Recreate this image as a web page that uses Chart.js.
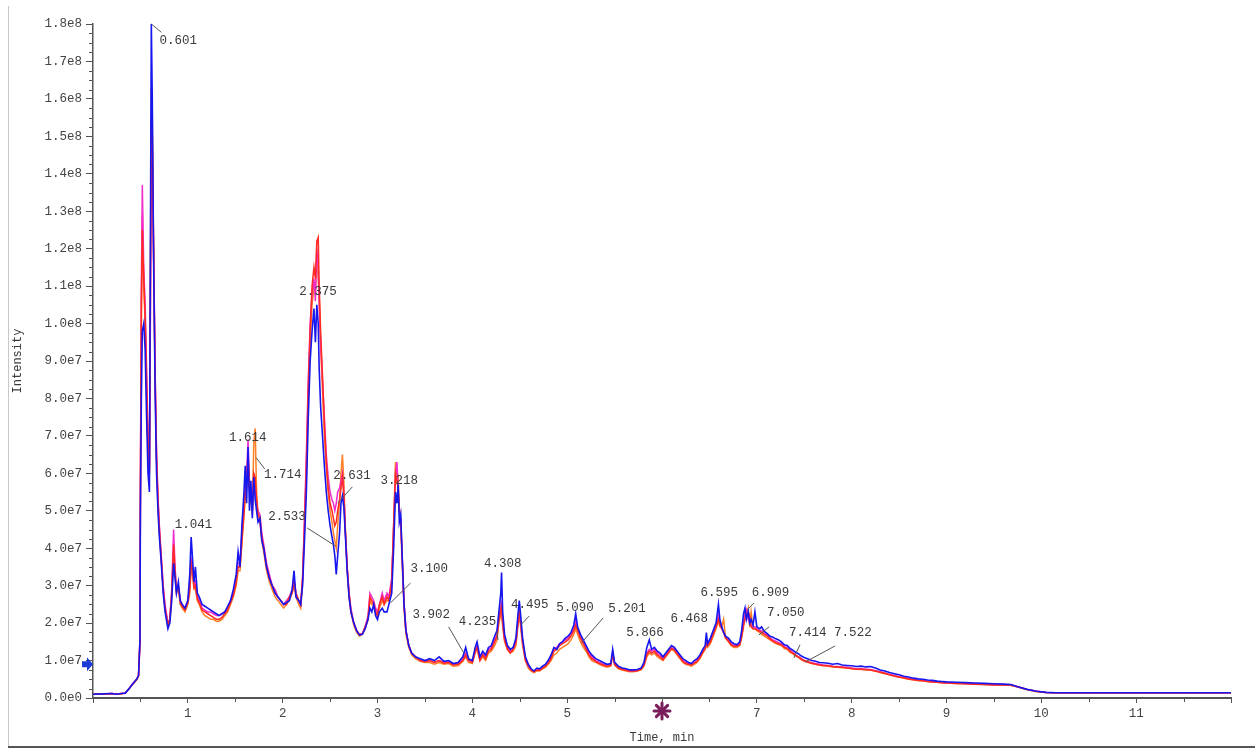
<!DOCTYPE html>
<html><head><meta charset="utf-8">
<script src="https://cdn.jsdelivr.net/npm/chart.js@4/dist/chart.umd.min.js"></script>
<style>html,body{margin:0;padding:0;background:#fff;}canvas{display:block;}</style>
</head><body>
<canvas id="c" width="1255" height="749"></canvas>
<script>
// ---- data (intensity in units of 1e7) ----
const UNIT = 1e7;
const timeMin = [
 0,0.1,0.2,0.25,0.3,0.34,0.38,0.42,0.46,0.48,0.495,
 0.50,0.51,0.52,0.535,0.55,0.565,0.58,0.595,0.605,0.615,0.625,0.64,0.655,0.67,0.685,0.70,0.72,0.74,0.76,0.79,
 0.81,0.83,0.85,0.865,0.88,0.90,0.92,0.94,0.97,1.00,1.02,1.035,1.05,1.065,1.08,1.10,1.12,1.15,1.18,1.21,
 1.24,1.27,1.30,1.33,1.36,1.39,1.42,1.45,1.48,1.51,1.53,1.55,1.57,1.59,1.605,1.62,1.635,1.65,1.665,1.68,
 1.695,1.71,1.725,1.74,1.76,1.78,1.80,1.83,1.86,1.89,1.92,1.95,1.98,2.01,2.04,2.07,2.10,2.12,2.14,2.17,
 2.19,2.21,2.23,2.25,2.27,2.29,2.31,2.33,2.345,2.36,2.375,2.385,2.40,2.42,2.44,2.46,2.48,2.50,2.52,2.535,
 2.55,2.565,2.58,2.60,2.615,2.63,2.645,2.66,2.68,2.70,2.72,2.75,2.78,2.81,2.84,2.87,2.90,2.92,2.94,2.96,
 2.98,3.00,3.02,3.05,3.07,3.10,3.12,3.15,3.17,3.19,3.205,3.218,3.23,3.245,3.26,3.28,3.30,3.33,3.36,3.40,
 3.45,3.50,3.55,3.60,3.65,3.70,3.75,3.80,3.85,3.90,3.93,3.96,4.00,4.03,4.05,4.08,4.11,4.14,4.17,4.20,
 4.235,4.26,4.28,4.30,4.308,4.32,4.34,4.37,4.40,4.43,4.46,4.48,4.495,4.51,4.53,4.56,4.59,4.62,4.65,4.68,
 4.71,4.74,4.77,4.80,4.83,4.86,4.89,4.92,4.95,4.98,5.01,5.04,5.07,5.09,5.11,5.14,5.17,5.20,5.23,5.26,
 5.30,5.34,5.38,5.42,5.46,5.48,5.50,5.54,5.58,5.62,5.66,5.70,5.74,5.78,5.81,5.84,5.866,5.89,5.92,5.95,
 5.98,6.01,6.04,6.07,6.10,6.13,6.16,6.19,6.22,6.25,6.28,6.31,6.34,6.37,6.40,6.43,6.455,6.468,6.48,6.51,
 6.54,6.57,6.595,6.61,6.63,6.65,6.67,6.70,6.73,6.76,6.79,6.82,6.84,6.86,6.875,6.89,6.909,6.925,6.94,6.96,
 6.98,7.00,7.03,7.05,7.08,7.11,7.14,7.17,7.20,7.23,7.26,7.29,7.32,7.35,7.38,7.41,7.44,7.47,7.50,7.54,
 7.58,7.62,7.66,7.70,7.75,7.80,7.85,7.90,7.95,8.00,8.05,8.10,8.15,8.20,8.25,8.30,8.35,8.40,8.45,8.50,
 8.55,8.60,8.65,8.70,8.75,8.80,8.85,8.90,8.95,9.00,9.10,9.20,9.30,9.40,9.50,9.60,9.68,9.75,9.85,9.95,
 10.05,10.15,11.0,12.0
];
const blueSeries = [
 0.1,0.11,0.12,0.1,0.12,0.13,0.25,0.38,0.5,0.6,1.5,
 5.0,8.0,9.8,10.0,9.3,7.5,6.0,5.5,12.0,18.0,16.0,11.5,8.2,6.0,5.0,4.3,3.6,2.8,2.3,1.85,
 2.0,2.6,3.6,3.2,2.8,3.1,2.6,2.5,2.4,2.6,3.3,4.3,3.7,3.1,3.5,2.8,2.7,2.5,2.45,2.4,
 2.35,2.3,2.25,2.2,2.25,2.3,2.45,2.6,2.9,3.3,3.9,3.5,4.6,5.4,6.2,5.2,6.7,5.0,5.8,4.8,
 5.9,5.3,5.0,4.7,4.8,4.2,4.0,3.5,3.2,3.0,2.8,2.7,2.6,2.5,2.55,2.6,2.9,3.4,2.7,2.6,
 2.5,3.0,4.2,5.5,7.5,9.0,9.8,10.4,9.5,10.5,10.0,8.8,7.8,7.0,6.2,5.5,5.0,4.6,4.3,4.1,
 3.8,3.3,3.8,4.4,5.2,5.4,5.1,4.4,3.4,2.7,2.3,2.0,1.8,1.68,1.7,1.85,2.1,2.4,2.3,2.5,
 2.2,2.1,2.3,2.4,2.3,2.3,2.5,2.8,4.0,5.5,5.2,5.7,4.7,4.9,3.8,2.5,1.8,1.4,1.2,1.1,
 1.05,1.0,1.05,1.0,1.1,0.98,1.0,0.92,0.95,1.1,1.35,1.05,1.0,1.35,1.5,1.1,1.25,1.15,1.35,1.4,
 1.65,1.8,2.3,2.8,3.35,2.3,1.7,1.4,1.3,1.35,1.6,2.2,2.6,2.2,1.6,1.1,0.9,0.78,0.72,0.8,
 0.78,0.85,0.9,1.0,1.15,1.35,1.3,1.45,1.5,1.6,1.65,1.75,1.95,2.25,1.9,1.7,1.55,1.4,1.25,1.15,
 1.05,1.0,0.95,0.9,0.92,1.3,0.95,0.85,0.8,0.78,0.75,0.75,0.76,0.8,0.95,1.35,1.55,1.3,1.35,1.25,
 1.2,1.1,1.2,1.3,1.4,1.35,1.25,1.15,1.05,1.0,0.95,0.92,1.0,1.05,1.15,1.3,1.4,1.75,1.45,1.6,
 1.8,2.0,2.5,2.1,1.9,1.75,1.65,1.6,1.5,1.45,1.42,1.5,1.8,2.25,2.4,2.1,2.3,2.0,2.1,1.95,
 2.3,1.9,1.85,1.9,1.78,1.72,1.65,1.62,1.58,1.55,1.5,1.42,1.4,1.32,1.28,1.22,1.18,1.12,1.08,1.04,
 1.0,0.98,0.95,0.94,0.93,0.9,0.92,0.88,0.87,0.86,0.84,0.85,0.83,0.84,0.8,0.75,0.72,0.68,0.65,0.62,
 0.58,0.56,0.53,0.51,0.5,0.48,0.47,0.45,0.44,0.43,0.42,0.41,0.4,0.39,0.38,0.37,0.36,0.3,0.23,0.18,
 0.15,0.14,0.14,0.14
];
const magentaSeries = [
 0.1,0.11,0.12,0.1,0.12,0.13,0.25,0.38,0.5,0.6,1.6,
 5.8,11.0,13.7,11.5,10.5,8.8,7.0,6.2,10.0,15.0,14.5,11.8,8.8,6.6,5.4,4.6,3.8,3.0,2.5,2.0,
 2.1,2.9,4.5,3.5,2.9,3.0,2.6,2.5,2.4,2.6,3.0,3.7,3.5,3.0,3.1,2.7,2.6,2.4,2.35,2.3,
 2.3,2.25,2.2,2.2,2.25,2.3,2.4,2.6,2.8,3.2,3.6,3.6,4.4,5.1,5.6,6.0,6.9,5.7,5.5,5.0,
 6.0,5.6,5.2,5.0,4.9,4.4,4.1,3.6,3.3,3.0,2.9,2.7,2.6,2.5,2.6,2.7,2.9,3.2,2.8,2.6,
 2.5,3.2,4.8,6.5,8.5,10.0,10.8,11.2,10.6,12.0,11.5,10.5,9.5,8.5,7.5,6.5,5.9,5.5,5.3,5.2,
 5.0,5.2,5.5,5.6,5.8,6.0,5.5,4.5,3.5,2.8,2.4,2.0,1.8,1.7,1.72,1.9,2.2,2.8,2.7,2.6,
 2.4,2.3,2.5,2.8,2.6,2.8,2.7,3.2,4.5,6.0,6.3,5.5,5.0,4.8,3.8,2.5,1.8,1.4,1.2,1.1,
 1.0,0.98,1.0,0.95,1.0,0.95,0.97,0.9,0.92,1.05,1.2,1.0,0.98,1.25,1.4,1.05,1.2,1.1,1.3,1.35,
 1.55,1.7,2.2,2.4,2.6,2.0,1.6,1.35,1.25,1.3,1.5,2.0,2.3,2.0,1.5,1.05,0.85,0.75,0.72,0.75,
 0.76,0.82,0.86,0.95,1.1,1.3,1.35,1.45,1.5,1.55,1.6,1.7,1.85,2.1,1.85,1.65,1.5,1.35,1.2,1.1,
 1.0,0.95,0.9,0.88,0.9,1.2,0.92,0.82,0.78,0.75,0.72,0.72,0.74,0.78,0.9,1.2,1.3,1.25,1.3,1.2,
 1.15,1.05,1.15,1.25,1.35,1.3,1.2,1.1,1.0,0.95,0.92,0.9,0.95,1.0,1.1,1.25,1.35,1.5,1.45,1.55,
 1.75,1.95,2.2,2.0,1.85,1.75,1.65,1.55,1.45,1.4,1.4,1.45,1.7,2.0,2.2,2.35,2.1,2.0,1.95,1.9,
 1.9,1.85,1.8,1.8,1.72,1.68,1.6,1.55,1.52,1.48,1.45,1.38,1.34,1.28,1.22,1.15,1.1,1.05,1.0,0.97,
 0.94,0.92,0.9,0.88,0.87,0.85,0.84,0.83,0.82,0.8,0.78,0.78,0.77,0.76,0.73,0.7,0.67,0.63,0.6,0.57,
 0.55,0.52,0.5,0.48,0.47,0.45,0.44,0.43,0.42,0.41,0.4,0.39,0.38,0.37,0.36,0.36,0.35,0.3,0.23,0.18,
 0.15,0.14,0.14,0.14
];
const orangeSeries = [
 0.1,0.1,0.11,0.1,0.11,0.13,0.24,0.37,0.48,0.58,1.4,
 5.5,10.0,12.9,11.0,10.0,8.2,6.6,6.0,11.0,16.3,15.5,11.6,8.5,6.3,5.2,4.4,3.7,2.9,2.4,1.95,
 2.05,2.7,3.9,3.3,2.8,2.9,2.5,2.4,2.3,2.5,2.8,3.4,3.3,2.9,2.9,2.6,2.5,2.3,2.2,2.15,
 2.1,2.1,2.05,2.05,2.1,2.2,2.3,2.5,2.7,3.0,3.4,3.4,4.1,4.8,5.3,5.7,6.4,5.5,5.3,4.9,
 6.8,7.2,5.5,4.9,4.7,4.2,3.9,3.4,3.1,2.9,2.7,2.6,2.5,2.4,2.5,2.6,2.8,3.0,2.7,2.5,
 2.4,3.1,4.5,6.0,8.0,9.5,10.5,11.0,10.8,11.8,11.2,10.8,9.4,8.2,7.0,6.2,5.5,5.0,4.7,4.4,
 4.2,4.0,4.6,5.2,6.0,6.5,5.8,4.6,3.5,2.7,2.3,1.95,1.75,1.65,1.7,1.85,2.1,2.6,2.5,2.5,
 2.3,2.2,2.4,2.6,2.5,2.6,2.6,3.0,4.6,6.3,5.8,5.9,5.0,4.6,3.6,2.4,1.7,1.35,1.15,1.05,
 0.98,0.95,0.95,0.9,0.95,0.9,0.92,0.85,0.86,0.98,1.1,0.95,0.92,1.2,1.3,1.0,1.1,1.0,1.2,1.25,
 1.4,1.55,2.0,2.2,2.3,1.9,1.5,1.3,1.2,1.25,1.4,1.9,2.2,1.9,1.4,1.0,0.8,0.72,0.68,0.72,
 0.72,0.78,0.82,0.9,1.0,1.15,1.2,1.3,1.35,1.4,1.45,1.55,1.7,1.85,1.7,1.5,1.35,1.25,1.1,1.0,
 0.95,0.9,0.85,0.82,0.85,1.15,0.88,0.78,0.75,0.72,0.7,0.7,0.72,0.75,0.85,1.1,1.2,1.15,1.2,1.1,
 1.05,1.0,1.1,1.2,1.3,1.25,1.15,1.05,0.95,0.9,0.88,0.85,0.9,0.95,1.05,1.2,1.3,1.4,1.35,1.45,
 1.65,1.85,2.05,1.9,1.9,2.1,1.6,1.5,1.4,1.35,1.35,1.4,1.6,1.9,2.3,2.2,2.4,1.9,2.3,1.85,
 1.85,1.8,1.75,1.7,1.65,1.6,1.55,1.5,1.45,1.42,1.4,1.32,1.3,1.22,1.18,1.12,1.08,1.02,0.98,0.95,
 0.92,0.9,0.88,0.86,0.85,0.83,0.82,0.81,0.8,0.78,0.77,0.76,0.75,0.74,0.72,0.68,0.65,0.62,0.58,0.56,
 0.53,0.5,0.49,0.47,0.46,0.44,0.43,0.42,0.41,0.4,0.39,0.38,0.37,0.36,0.35,0.35,0.34,0.29,0.22,0.17,
 0.15,0.14,0.14,0.14
];
const redSeries = [
 0.1,0.11,0.12,0.1,0.12,0.13,0.25,0.38,0.5,0.6,1.5,
 5.6,10.5,12.5,11.2,10.2,8.5,6.8,6.0,10.5,15.5,15.0,11.7,8.6,6.4,5.3,4.5,3.7,2.9,2.4,1.95,
 2.1,2.8,4.1,3.4,2.85,3.0,2.55,2.45,2.35,2.55,2.9,3.6,3.4,2.95,3.0,2.65,2.55,2.35,2.3,2.25,
 2.2,2.15,2.1,2.1,2.15,2.25,2.35,2.55,2.75,3.1,3.5,3.5,4.2,4.9,5.5,5.8,6.5,5.6,5.4,5.0,
 6.0,5.9,5.3,4.9,4.8,4.3,4.0,3.5,3.2,3.0,2.8,2.7,2.6,2.5,2.5,2.7,2.8,3.1,2.8,2.6,
 2.5,3.2,4.6,6.2,8.3,9.8,11.0,11.5,11.2,12.2,12.3,11.0,9.8,8.6,7.3,6.3,5.6,5.2,5.0,4.8,
 4.6,4.7,5.0,5.3,5.6,5.9,5.4,4.5,3.5,2.8,2.3,2.0,1.8,1.7,1.7,1.9,2.1,2.7,2.6,2.5,
 2.3,2.2,2.5,2.7,2.5,2.7,2.6,3.1,4.6,6.0,5.8,5.6,5.1,4.7,3.8,2.5,1.8,1.4,1.2,1.1,
 1.0,0.97,1.0,0.95,1.0,0.93,0.95,0.88,0.9,1.0,1.15,1.0,0.95,1.25,1.35,1.0,1.15,1.05,1.25,1.3,
 1.5,1.65,2.1,2.3,2.5,2.0,1.55,1.3,1.2,1.3,1.5,2.0,2.3,2.0,1.5,1.0,0.85,0.75,0.7,0.75,
 0.74,0.8,0.85,0.93,1.05,1.25,1.3,1.4,1.45,1.5,1.55,1.65,1.8,1.95,1.8,1.6,1.45,1.3,1.15,1.05,
 0.98,0.92,0.88,0.85,0.88,1.2,0.9,0.8,0.77,0.74,0.72,0.72,0.73,0.77,0.88,1.15,1.25,1.2,1.25,1.15,
 1.1,1.02,1.12,1.22,1.32,1.28,1.18,1.08,0.98,0.92,0.9,0.88,0.93,0.98,1.08,1.22,1.32,1.45,1.4,1.5,
 1.7,1.9,2.1,1.95,1.85,1.75,1.6,1.52,1.42,1.38,1.38,1.42,1.65,1.95,2.1,2.25,2.3,2.2,1.9,1.85,
 1.85,1.82,1.78,1.75,1.7,1.65,1.58,1.52,1.48,1.45,1.42,1.35,1.32,1.25,1.2,1.14,1.1,1.04,1.0,0.96,
 0.93,0.9,0.88,0.87,0.86,0.84,0.83,0.82,0.8,0.79,0.77,0.77,0.76,0.75,0.72,0.69,0.66,0.62,0.59,0.56,
 0.54,0.51,0.49,0.47,0.46,0.44,0.43,0.42,0.41,0.4,0.39,0.38,0.37,0.36,0.35,0.35,0.34,0.3,0.23,0.18,
 0.15,0.14,0.14,0.14
];
const xTickValues = [1,2,3,4,5,6,7,8,9,10,11];
// peak labels: text, label anchor (time, intensity) and optional leader line [t1,v1,t2,v2]
const peakLabels = [
 {text:'0.601', lt:0.70, lv:17.55, leader:[0.615,18.0,0.72,17.78]},
 {text:'1.041', lt:0.862, lv:4.62},
 {text:'1.614', lt:1.434, lv:6.94},
 {text:'1.714', lt:1.804, lv:5.96, leader:[1.72,6.42,1.81,6.12]},
 {text:'2.375', lt:2.175, lv:10.84},
 {text:'2.533', lt:1.847, lv:4.83, leader:[2.259,4.54,2.557,4.06]},
 {text:'2.631', lt:2.534, lv:5.93, leader:[2.735,5.64,2.58,5.2]},
 {text:'3.218', lt:3.032, lv:5.8},
 {text:'3.100', lt:3.349, lv:3.45, leader:[3.349,3.07,3.137,2.54]},
 {text:'3.902', lt:3.37, lv:2.22, leader:[3.75,1.9,3.91,1.2]},
 {text:'4.235', lt:3.857, lv:2.03, leader:[4.26,1.78,4.27,1.55]},
 {text:'4.308', lt:4.122, lv:3.6},
 {text:'4.495', lt:4.407, lv:2.48, leader:[4.6,2.19,4.51,1.95]},
 {text:'5.090', lt:4.884, lv:2.4},
 {text:'5.201', lt:5.434, lv:2.38, leader:[5.38,2.14,5.15,1.47]},
 {text:'5.866', lt:5.624, lv:1.74},
 {text:'6.468', lt:6.09, lv:2.11},
 {text:'6.595', lt:6.407, lv:2.8},
 {text:'6.909', lt:6.947, lv:2.8, leader:[6.97,2.54,6.895,2.35]},
 {text:'7.050', lt:7.106, lv:2.27, leader:[7.13,1.9,7.02,1.68]},
 {text:'7.414', lt:7.339, lv:1.74, leader:[7.455,1.42,7.39,1.07]},
 {text:'7.522', lt:7.815, lv:1.74, leader:[7.825,1.39,7.51,0.96]}
];

[blueSeries,magentaSeries,orangeSeries,redSeries].forEach((s,i)=>{ if(s.length!==timeMin.length) throw new Error('length mismatch '+i+': '+s.length+' vs '+timeMin.length); });

const pts = s => timeMin.map((t,i)=>({x:t, y:s[i]*UNIT}));
const FONT = "'Liberation Mono', 'DejaVu Sans Mono', monospace";
const fmtY = v => { if (v === 0) return '0.0e0'; const e = Math.floor(Math.log10(v) + 1e-9); return (v/Math.pow(10,e)).toFixed(1)+'e'+e; };

const bgPlugin = {
  id:'bg',
  beforeDraw(chart){ const c=chart.ctx; c.save(); c.fillStyle='#fff'; c.fillRect(0,0,chart.width,chart.height); c.restore(); },
  afterDraw(chart){
    const c=chart.ctx, xs=chart.scales.x, ys=chart.scales.y;
    c.save();
    // frame
    c.strokeStyle='#c8c8c8'; c.lineWidth=1;
    c.beginPath(); c.moveTo(8.5,6); c.lineTo(8.5,746); c.stroke();
    c.strokeStyle='#555'; c.lineWidth=2;
    c.beginPath(); c.moveTo(8,747); c.lineTo(chart.width,747); c.stroke();
    // minor ticks
    c.strokeStyle='#555'; c.lineWidth=1;
    for (let v=0; v<=ys.max+1; v+=2.5e6){
      if (Math.round(v/1e6)%10===0) continue;
      const y=Math.round(ys.getPixelForValue(v))+0.5;
      c.beginPath(); c.moveTo(xs.left-4,y); c.lineTo(xs.left,y); c.stroke();
    }
    for (let t=0.5; t<xs.max; t+=1){
      const x=Math.round(xs.getPixelForValue(t))+0.5;
      c.beginPath(); c.moveTo(x,ys.bottom); c.lineTo(x,ys.bottom+4); c.stroke();
    }
    // blue arrow marker at left axis
    const ay=ys.getPixelForValue(0.9e7), ax=xs.left;
    c.fillStyle='#1c3ad6';
    c.beginPath();
    c.moveTo(ax-11,ay-3); c.lineTo(ax-6,ay-3); c.lineTo(ax-6,ay-7); c.lineTo(ax,ay);
    c.lineTo(ax-6,ay+7); c.lineTo(ax-6,ay+3); c.lineTo(ax-11,ay+3); c.closePath(); c.fill();
    // asterisk marker on time axis
    const sx=xs.getPixelForValue(6), sy=ys.bottom+13;
    c.fillStyle='#fff'; c.beginPath(); c.arc(sx,sy,9,0,Math.PI*2); c.fill();
    c.strokeStyle='#7a1f5c'; c.lineWidth=3; c.lineCap='round';
    for (let k=0;k<4;k++){
      const a=k*Math.PI/4;
      c.beginPath(); c.moveTo(sx-Math.cos(a)*8, sy-Math.sin(a)*8); c.lineTo(sx+Math.cos(a)*8, sy+Math.sin(a)*8); c.stroke();
    }
    c.restore();
  },
  afterDatasetsDraw(chart){
    const c=chart.ctx, xs=chart.scales.x, ys=chart.scales.y;
    c.save();
    c.font='12.5px '+FONT; c.fillStyle='#3a3a3a'; c.textAlign='left'; c.textBaseline='middle';
    c.strokeStyle='#555'; c.lineWidth=1;
    peakLabels.forEach(p=>{
      if (p.leader){
        const [t1,v1,t2,v2]=p.leader;
        c.beginPath(); c.moveTo(xs.getPixelForValue(t1), ys.getPixelForValue(v1*UNIT));
        c.lineTo(xs.getPixelForValue(t2), ys.getPixelForValue(v2*UNIT)); c.stroke();
      }
      c.fillText(p.text, xs.getPixelForValue(p.lt), ys.getPixelForValue(p.lv*UNIT));
    });
    c.restore();
  }
};

new Chart(document.getElementById('c'), {
  type:'line',
  data:{ datasets:[
    {label:'blue', data:pts(blueSeries), borderColor:'#1616ee', borderWidth:1.6},
    {label:'red', data:pts(redSeries), borderColor:'#ff2a22', borderWidth:1.5},
    {label:'magenta', data:pts(magentaSeries), borderColor:'#f02ccc', borderWidth:1.5},
    {label:'orange', data:pts(orangeSeries), borderColor:'#ff7f24', borderWidth:1.5}
  ]},
  options:{
    responsive:false, animation:false, devicePixelRatio:1,
    parsing:false, normalized:true,
    elements:{ point:{radius:0}, line:{tension:0} },
    layout:{ padding:{top:24, right:24, left:0, bottom:0} },
    plugins:{ legend:{display:false}, tooltip:{enabled:false} },
    scales:{
      x:{ type:'linear', min:0, max:12,
        afterFit(s){ s.height=51; },
        border:{display:true, color:'#555', width:2},
        grid:{drawOnChartArea:false, drawTicks:true, tickLength:5, color:'#555'},
        ticks:{ stepSize:1, autoSkip:false, maxRotation:0, padding:3, color:'#444', font:{family:FONT, size:12.5},
          callback:v=> xTickValues.includes(v) ? String(v) : '' },
        title:{ display:true, text:'Time, min', color:'#3a3a3a', font:{family:FONT, size:12}, padding:{top:4,bottom:4} }
      },
      y:{ type:'linear', min:0, max:1.8e8,
        afterFit(s){ s.width=93; },
        border:{display:true, color:'#555', width:1.5},
        grid:{drawOnChartArea:false, drawTicks:true, tickLength:7, color:'#555'},
        ticks:{ stepSize:1e7, autoSkip:false, padding:4, color:'#444', font:{family:FONT, size:12.5}, callback:v=>fmtY(v) },
        title:{ display:true, text:'Intensity', color:'#3a3a3a', font:{family:FONT, size:12}, padding:{top:11,bottom:11} }
      }
    }
  },
  plugins:[bgPlugin]
});
</script>
</body></html>
